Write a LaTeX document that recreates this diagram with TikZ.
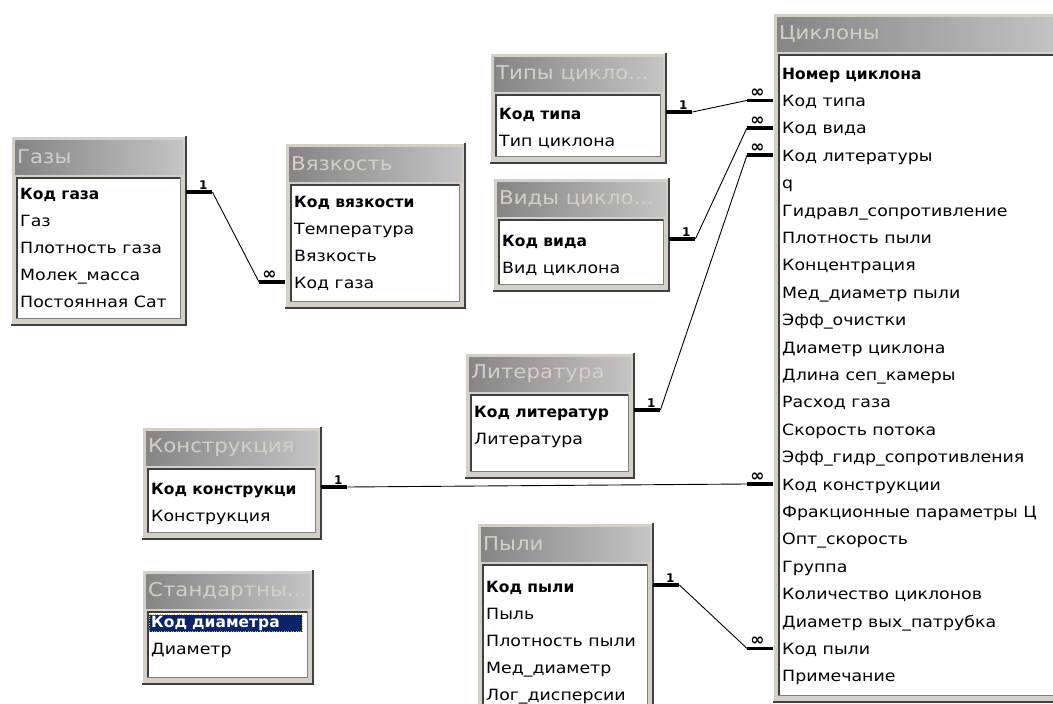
\documentclass[tikz,border=0pt]{standalone}
\usepackage{fontspec}
\setmainfont{DejaVu Sans}[FakeStretch=1.12, BoldFeatures={FakeStretch=1.0}]
\usetikzlibrary{calc}
\definecolor{winface}{HTML}{D4D0C8}
\definecolor{windark}{HTML}{404040}
\definecolor{winshade}{HTML}{808080}
\definecolor{hdrleft}{HTML}{858585}
\definecolor{hdrright}{HTML}{C4C4C4}
\definecolor{selblue}{HTML}{0A246A}
\newcommand{\rowfont}{\fontsize{15.5}{15.5}\selectfont}
\newcommand{\hdrfont}{\fontsize{19}{19}\selectfont}
% name, x0, y0, x1, y1, title, first row y, row pitch, rows
\newcommand{\dbtable}[9]{%
  \node[tblframe, minimum width=#4-#2, minimum height=#5-#3] (#1) at (#2,#3) {};
  \draw[white, line width=1.5] (#1.south west) |- (#1.north east);
  \draw[windark, line width=2] (#1.north east) |- (#1.south west);
  \shade[left color=hdrleft, right color=hdrright] ($(#1.north west)+(4,4)$) rectangle ($(#1.north east)+(-4,38)$);
  \node[hdr] (#1-t) at ($(#1.north west)+(6,21)$) {#6};
  \coordinate (#1-a) at ($(#1.north west)+(6,42)$);
  \coordinate (#1-b) at ($(#1.south east)+(-6,-7)$);
  \draw[bodybox] (#1-a) rectangle (#1-b);
  \draw[windark, line width=1.2] (#1-a |- #1-b) |- (#1-b |- #1-a);
  \begin{scope}
    \clip ($(#1-a)+(1,1)$) rectangle ($(#1-b)+(-1,-1)$);
    \foreach \t [count=\i] in {#9}{
      \ifnum\i=1 \node[row, keyrow] (#1-\i) at ({#2+7},{#7}) {\t};
      \else \node[row] (#1-\i) at ({#2+7},{#7+(\i-1)*#8}) {\t}; \fi}
  \end{scope}}
% one row, one table, many row, many table
\newcommand{\relate}[4]{%
  \draw[stub] ($(#2.east |- #1)+(0,-3)$) -- ++(26,0) node[lbl, pos=0.65] {1} coordinate (#1-e);
  \draw[stub] ($(#4.west |- #3)+(0,-2)$) -- ++(-26,0) node[lbl, pos=0.6, font=\fontsize{17}{17}\selectfont\bfseries] {∞} coordinate (#3-e);
  \draw[rel] (#1-e) -- (#3-e);}

\begin{document}
\begin{tikzpicture}[x=1pt, y=-1pt,
  tblframe/.style={anchor=north west, fill=winface, inner sep=0pt},
  hdr/.style={anchor=west, text=winface, font=\hdrfont, inner sep=0pt},
  bodybox/.style={fill=white, draw=winshade, line width=1.5},
  row/.style={anchor=west, inner xsep=2pt, inner ysep=1pt, text height=11.5pt, text depth=3.5pt, font=\rowfont},
  keyrow/.style={font=\rowfont\bfseries},
  stub/.style={line width=3.5, line cap=butt},
  rel/.style={line width=0.9},
  lbl/.style={above=1pt, inner sep=0pt, font=\fontsize{12}{12}\selectfont\bfseries}]
\clip (0,0) rectangle (1053,704);
\fill[white] (0,0) rectangle (1053,704);

\dbtable{gazy}{11}{136}{186}{325}{Газы}{195}{27}{Код газа,Газ,Плотность газа,Молек\_масса,Постоянная Сат}
\dbtable{vyaz}{285}{143}{465}{308}{Вязкость}{203}{27}{Код вязкости,Температура,Вязкость,Код газа}
\dbtable{tipy}{490}{53}{666}{163}{Типы цикло...}{115}{27}{Код типа,Тип циклона}
\dbtable{vidy}{493}{178}{669}{291}{Виды цикло...}{242}{27}{Код вида,Вид циклона}
\dbtable{lit}{465}{353}{634}{478}{Литература}{413}{27}{Код литератур,Литература}
\dbtable{konstr}{142}{427}{321}{539}{Конструкция}{490}{27}{Код конструкци,Конструкция}
\begin{scope}[keyrow/.style={font=\rowfont\bfseries, fill=selblue, text=white,
    draw={rgb,255:red,200;green,180;blue,90}, dotted, text width=149pt}]
\dbtable{stand}{142}{570}{313}{684}{Стандартны...}{623}{27}{Код диаметра,Диаметр}
\end{scope}
\dbtable{pyli}{477}{523}{653}{730}{Пыли}{588}{27}{Код пыли,Пыль,Плотность пыли,Мед\_диаметр,Лог\_дисперсии}
\dbtable{cikl}{773}{13}{1065}{702}{Циклоны}{75}{27.4}{Номер циклона,Код типа,Код вида,Код литературы,q,
  Гидравл\_сопротивление,Плотность пыли,Концентрация,Мед\_диаметр пыли,Эфф\_очистки,
  Диаметр циклона,Длина сеп\_камеры,Расход газа,Скорость потока,Эфф\_гидр\_сопротивления,
  Код конструкции,Фракционные параметры Ц,Опт\_скорость,Группа,Количество циклонов,
  Диаметр вых\_патрубка,Код пыли,Примечание}

\relate{gazy-1}{gazy}{vyaz-4}{vyaz}
\relate{tipy-1}{tipy}{cikl-2}{cikl}
\relate{vidy-1}{vidy}{cikl-3}{cikl}
\relate{lit-1}{lit}{cikl-4}{cikl}
\relate{konstr-1}{konstr}{cikl-16}{cikl}
\relate{pyli-1}{pyli}{cikl-22}{cikl}
\end{tikzpicture}
\end{document}
